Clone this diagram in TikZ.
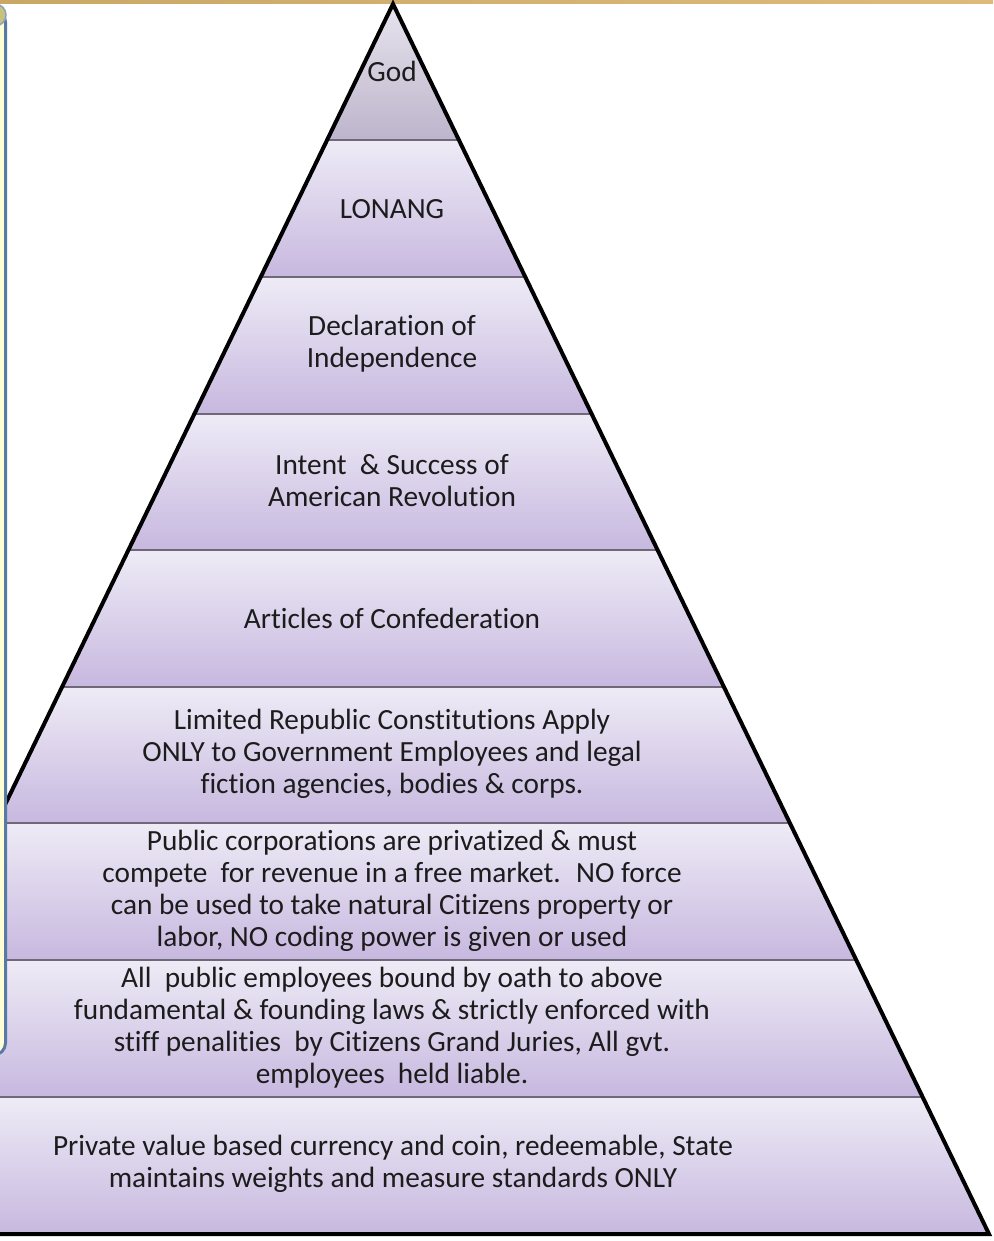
\documentclass[tikz,border=0pt]{standalone}
\usepackage{fontspec}
\setmainfont{Carlito}[Ligatures=NoCommon]
\definecolor{bandtop}{HTML}{EEEBF6}
\definecolor{bandbot}{HTML}{C7B8DF}
\definecolor{godtop}{HTML}{E8E5EE}
\definecolor{godbot}{HTML}{BDB5CC}
\definecolor{sepline}{HTML}{6E6878}
\definecolor{boxblue}{HTML}{5A7AA6}
\definecolor{boxfill}{HTML}{FFFFD6}
\definecolor{olive}{HTML}{C9C27A}
\definecolor{tanA}{HTML}{C9A765}
\definecolor{tanB}{HTML}{DEBB7C}
\definecolor{txt}{HTML}{1C1C1C}
\tikzset{
  lbl/.style={align=center, text=txt, inner sep=0pt,
    font=\fontsize{29.3}{32}\selectfont},
}
\begin{document}
\begin{tikzpicture}[x=1pt,y=-1pt]
\useasboundingbox (0,0) rectangle (993,1241);
\begin{scope}
\clip (0,0) rectangle (993,1241);
\fill[white] (0,0) rectangle (993,1241);
% top tan strip
\shade[left color=tanA, right color=tanB] (0,0) rectangle (993,4);
% pyramid bands
\coordinate (apex) at (393,4);
\coordinate (bl) at (-203,1234);
\coordinate (br) at (989,1234);
\begin{scope}
\clip (apex) -- (br) -- (bl) -- cycle;
\shade[top color=godtop, bottom color=godbot] (-250,0) rectangle (1000,140);
\foreach \a/\b in {140/277,277/414,414/550,550/687,687/823,823/960,960/1097,1097/1234}{
  \shade[top color=bandtop, bottom color=bandbot] (-250,\a) rectangle (1000,\b);
}
\foreach \a in {140,277,414,550,687,823,960,1097}{
  \draw[sepline, line width=1.6pt] (-250,\a) -- (1000,\a);
}
\end{scope}
\draw[black, line width=4pt, line join=miter] (bl) -- (apex) -- (br) -- cycle;
% labels
\node[lbl] (god) at (392,71) {God};
\node[lbl] (lonang) at (392,209) {LONANG};
\node[lbl] (decl) at (392,344) {Declaration of\\Independence};
\node[lbl] (intent) at (392,481) {Intent~ \& Success of\\American Revolution};
\node[lbl] (art) at (392,618) {Articles of Confederation};
\node[lbl] (lim) at (392,754) {Limited Republic Constitutions Apply\\ONLY to Government Employees and legal\\fiction agencies, bodies \& corps.};
\node[lbl] (pub) at (392,891) {Public corporations are privatized \& must\\compete~ for revenue in a free market.~ NO force\\can be used to take natural Citizens property or\\labor, NO coding power is given or used};
\node[lbl] (all) at (392,1028) {All~ public employees bound by oath to above\\fundamental \& founding laws \& strictly enforced with\\stiff penalities~ by Citizens Grand Juries, All gvt.\\employees~ held liable.};
\node[lbl] (priv) at (393,1164) {Private value based currency and coin, redeemable, State\\maintains weights and measure standards ONLY};
% left box (in front)
\draw[boxblue, fill=boxfill, line width=3pt, rounded corners=12pt] (-60,10) rectangle (5.5,1055);
\draw[boxblue!70, fill=olive, line width=1.5pt] (-5,15) circle (11);
\end{scope}
\end{tikzpicture}
\end{document}
